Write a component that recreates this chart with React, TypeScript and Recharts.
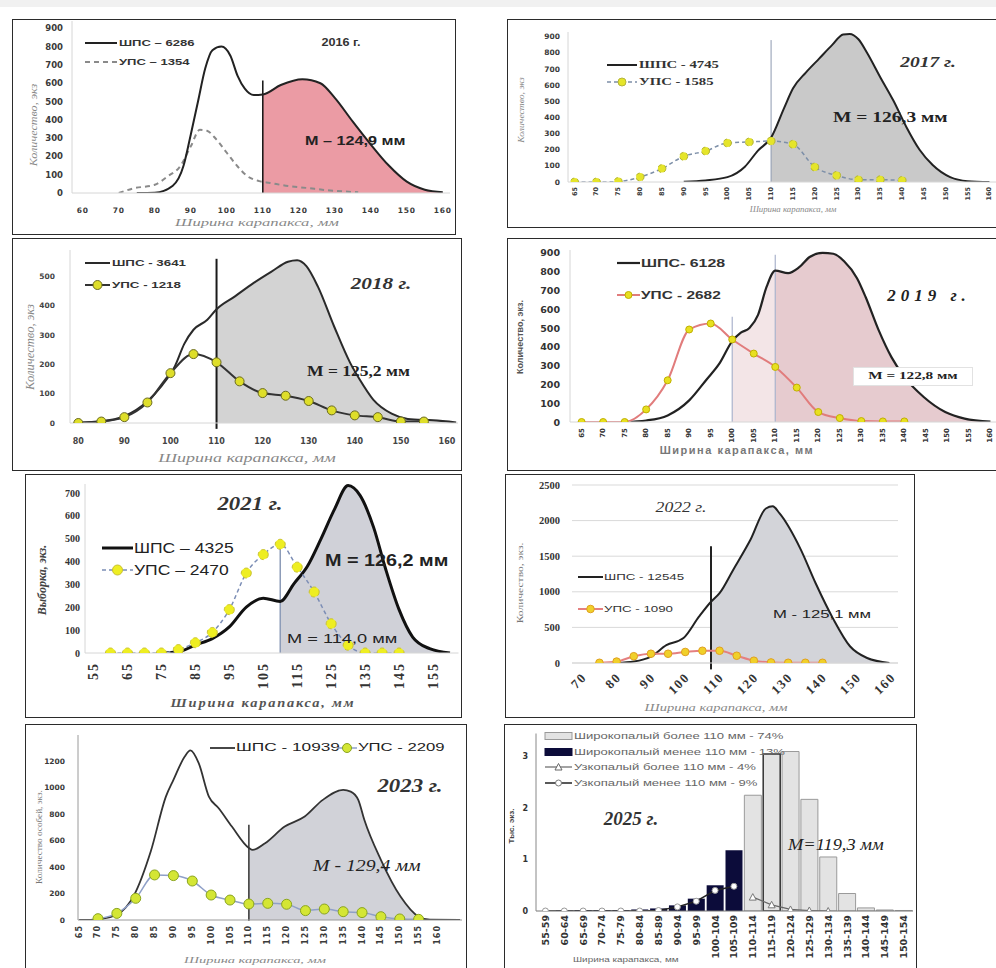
import React from 'react';
import { ComposedChart, Line, Area, Bar, Cell, XAxis, YAxis, ReferenceLine, CartesianGrid } from 'recharts';

const SANS = '"Liberation Sans", Arial, sans-serif';
const SERIF = '"Liberation Serif", "Times New Roman", serif';
const DJV = '"DejaVu Sans", sans-serif';

// ===== 2016 =====
const w2016Shps = [75, 80, 85, 88, 90, 92, 94, 96, 98.5, 101, 103, 105, 107.5, 110, 115, 121, 126, 130, 135, 140, 145, 150, 155, 160];
const n2016Shps = [0, 2, 40, 150, 320, 500, 680, 780, 800, 750, 640, 570, 535, 538, 590, 622, 600, 520, 390, 265, 150, 62, 18, 4];
const w2016Ups = [70, 74, 80, 83.5, 87, 90, 92.5, 94.5, 97, 100, 103, 105.5, 109, 112, 117, 122, 128, 136.5];
const n2016Ups = [0, 25, 45, 90, 145, 255, 345, 340, 295, 220, 145, 95, 65, 55, 38, 28, 15, 4];
const tick2016X = [60, 70, 80, 90, 100, 110, 120, 130, 140, 150, 160];
const tick2016Y = [0, 100, 200, 300, 400, 500, 600, 700, 800, 900];

// ===== 2017 =====
const w2017Shps = [90, 95, 100, 104, 107, 110, 113, 115, 118, 121, 124, 126.5, 128, 130, 132, 135, 138, 141, 144, 147, 151, 155, 160];
const n2017Shps = [2, 10, 30, 95, 195, 275, 460, 580, 680, 765, 850, 915, 918, 885, 800, 650, 505, 340, 200, 105, 30, 5, 0];
const w2017Ups = [65, 70, 75, 80, 85, 90, 95, 100, 105, 110, 115, 120, 125, 130, 135, 140];
const n2017Ups = [0, 0, 3, 31, 83, 159, 192, 242, 248, 254, 234, 93, 41, 14, 14, 10];
const tick2017X = [65, 70, 75, 80, 85, 90, 95, 100, 105, 110, 115, 120, 125, 130, 135, 140, 145, 150, 155, 160];
const tick2017Y = [0, 100, 200, 300, 400, 500, 600, 700, 800, 900];

// ===== 2018 =====
const w2018Shps = [80, 85, 90, 95, 98, 101, 103, 105, 108, 110, 114, 118, 122, 125.5, 127.5, 129.5, 132, 135.5, 139, 141, 144, 148, 151.5, 157, 162];
const n2018Shps = [2, 6, 23, 74, 125, 195, 270, 318, 352, 388, 432, 477, 517, 550, 555, 535, 465, 330, 205, 150, 80, 32, 14, 9, 2];
const w2018Ups = [80, 85, 90, 95, 100, 105, 110, 115, 120, 125, 130, 135, 140, 145, 150, 155];
const n2018Ups = [0, 5, 20, 70, 170, 235, 207, 142, 102, 93, 75, 43, 26, 20, 5, 5];
const tick2018X = [80, 90, 100, 110, 120, 130, 140, 150, 160];
const tick2018Y = [0, 100, 200, 300, 400, 500];

// ===== 2019 =====
const w2019Shps = [75, 80, 85, 90, 94, 97, 100, 102, 104, 106, 108, 110, 113, 115.5, 118, 121, 123.5, 126, 129, 131, 134, 137, 140, 144.5, 149.5, 154, 160];
const n2019Shps = [0, 8, 35, 115, 225, 310, 430, 475, 500, 570, 720, 805, 792, 822, 878, 900, 895, 855, 765, 665, 490, 345, 240, 133, 53, 18, 2];
const w2019Ups = [65, 70, 75, 80, 85, 90, 95, 100, 105, 110, 115, 120, 125, 130, 135, 140];
const n2019Ups = [0, 0, 0, 67, 222, 492, 524, 439, 364, 293, 183, 53, 21, 5, 3, 3];
const tick2019X = [65, 70, 75, 80, 85, 90, 95, 100, 105, 110, 115, 120, 125, 130, 135, 140, 145, 150, 155, 160];
const tick2019Y = [0, 100, 200, 300, 400, 500, 600, 700, 800, 900];

// ===== 2021 =====
const w2021Shps = [75, 80, 85, 90, 95, 100, 105, 110, 114, 118, 122, 126, 130, 133.5, 137.5, 141, 145, 149, 154, 160];
const n2021Shps = [0, 5, 35, 63, 114, 201, 240, 226, 303, 380, 500, 630, 733, 690, 550, 370, 190, 70, 19, 0];
const w2021Ups = [60, 65, 70, 75, 80, 85, 90, 95, 100, 105, 110, 115, 120, 125, 130, 135, 140, 145];
const n2021Ups = [0, 0, 0, 0, 15, 45, 90, 190, 350, 431, 476, 376, 267, 128, 34, 0, 0, 0];
const tick2021X = [55, 65, 75, 85, 95, 105, 115, 125, 135, 145, 155];
const tick2021Y = [0, 100, 200, 300, 400, 500, 600, 700];

// ===== 2022 =====
const w2022Shps = [80, 85, 90, 94.5, 99.5, 104, 107.5, 110, 114, 119, 123.5, 125.5, 127.5, 133.5, 138, 143, 148, 153, 159.5];
const n2022Shps = [0, 20, 90, 250, 350, 650, 860, 980, 1310, 1730, 2170, 2200, 2100, 1610, 1120, 630, 235, 70, 0];
const w2022Ups = [75, 80, 85, 90, 95, 100, 105, 110, 115, 120, 125, 130, 135, 140];
const n2022Ups = [3, 20, 95, 130, 130, 155, 172, 172, 102, 32, 8, 3, 3, 3];
const tick2022X = [70, 80, 90, 100, 110, 120, 130, 140, 150, 160];
const tick2022Y = [0, 500, 1000, 1500, 2000, 2500];

// ===== 2023 =====
const w2023Shps = [65, 70, 75, 79.6, 84, 88, 90, 93, 94.5, 96.7, 99.4, 102, 105.5, 110, 111, 114.3, 119.5, 124.8, 129.6, 135, 137, 139, 140.6, 145, 150.2, 155, 158, 166];
const n2023Shps = [0, 5, 40, 190, 520, 934, 1060, 1237, 1283, 1187, 934, 846, 707, 545, 530, 581, 707, 783, 909, 985, 972, 909, 758, 455, 177, 25, 2, 0];
const w2023Ups = [70, 75, 80, 85, 90, 95, 100, 105, 110, 115, 120, 125, 130, 135, 140, 145, 150, 155];
const n2023Ups = [10, 50, 164, 341, 336, 295, 189, 151, 121, 126, 119, 71, 83, 63, 56, 25, 8, 5];
const tick2023X = [65, 70, 75, 80, 85, 90, 95, 100, 105, 110, 115, 120, 125, 130, 135, 140, 145, 150, 155, 160];
const tick2023Y = [0, 200, 400, 600, 800, 1000, 1200];

// ===== 2025 =====
const cats2025 = ['55-59', '60-64', '65-69', '70-74', '75-79', '80-84', '85-89', '90-94', '95-99', '100-104', '105-109', '110-114', '115-119', '120-124', '125-129', '130-134', '135-139', '140-144', '145-149', '150-154'];
const wideMore2025 = [null, null, null, null, null, null, null, null, null, null, null, 2.25, 3.05, 3.1, 2.17, 1.05, 0.34, 0.06, 0.02, 0.01];
const wideLess2025 = [0, 0.01, 0.02, 0.02, 0.02, 0.03, 0.05, 0.11, 0.24, 0.5, 1.18, null, null, null, null, null, null, null, null, null];
const narrowLess2025 = [0, 0, 0, 0, 0, 0, 0.01, 0.08, 0.19, 0.4, 0.48, null, null, null, null, null, null, null, null, null];
const narrowMore2025 = [null, null, null, null, null, null, null, null, null, null, null, 0.27, 0.12, 0.03, 0.01, 0, null, null, null, null];
const tick2025Y = [0, 1, 2, 3];

// ===== helpers =====
type Row = { x: number; [k: string]: number | null };
function buildTable(series: Record<string, [number[], (number | null)[]]>): Row[] {
  const rows = new Map<number, Row>();
  Object.entries(series).forEach(([key, [xs, ys]]) => {
    xs.forEach((x, i) => {
      const v = ys[i];
      if (v === null || v === undefined) return;
      const r = rows.get(x) ?? ({ x } as Row);
      r[key] = v;
      rows.set(x, r);
    });
  });
  return Array.from(rows.values()).sort((a, b) => a.x - b.x);
}
function part(xs: number[], ys: number[], lo: number, hi = Infinity): [number[], number[]] {
  const ox: number[] = [];
  const oy: number[] = [];
  xs.forEach((x, i) => {
    if (x >= lo - 1e-9 && x <= hi + 1e-9) {
      ox.push(x);
      oy.push(ys[i]);
    }
  });
  return [ox, oy];
}

const d2016 = buildTable({ shps: [w2016Shps, n2016Shps], ups: [w2016Ups, n2016Ups], fill: part(w2016Shps, n2016Shps, 110) });
const d2017 = buildTable({ shps: [w2017Shps, n2017Shps], ups: [w2017Ups, n2017Ups], fill: part(w2017Shps, n2017Shps, 110) });
const d2018 = buildTable({ shps: [w2018Shps, n2018Shps], ups: [w2018Ups, n2018Ups], fill: part(w2018Shps, n2018Shps, 110) });
const d2019 = buildTable({ shps: [w2019Shps, n2019Shps], ups: [w2019Ups, n2019Ups], fillA: part(w2019Shps, n2019Shps, 100, 110), fillB: part(w2019Shps, n2019Shps, 110) });
const d2021 = buildTable({ shps: [w2021Shps, n2021Shps], ups: [w2021Ups, n2021Ups], fill: part(w2021Shps, n2021Shps, 110) });
const d2022 = buildTable({ shps: [w2022Shps, n2022Shps], ups: [w2022Ups, n2022Ups], fill: part(w2022Shps, n2022Shps, 107.5) });
const d2023 = buildTable({ shps: [w2023Shps, n2023Shps], ups: [w2023Ups, n2023Ups], fill: part(w2023Shps, n2023Shps, 110) });
const d2025 = cats2025.map((c, i) => ({ cat: c, wm: wideMore2025[i], wl: wideLess2025[i], nl: narrowLess2025[i], nm: narrowMore2025[i] }));

// ===== small components =====
type TxtProps = { x: number; y: number; children: React.ReactNode; anchor?: 'start' | 'middle' | 'end'; size?: number; weight?: number | string; italic?: boolean; family?: string; color?: string; rotate?: boolean; ls?: number; sx?: number };
function Txt({ x, y, children, anchor = 'start', size = 10, weight = 400, italic = false, family = SANS, color = '#222', rotate = false, ls = 0, sx = 1 }: TxtProps) {
  const tx = anchor === 'middle' ? '-50%' : anchor === 'end' ? '-100%' : '0%';
  const origin = rotate ? 'center center' : anchor === 'start' ? 'left center' : anchor === 'end' ? 'right center' : 'center center';
  const transform = rotate ? `translate(-50%,-50%) rotate(-90deg) scaleX(${sx})` : `translate(${tx},-50%) scaleX(${sx})`;
  return (
    <div style={{ position: 'absolute', left: x, top: y, transform, transformOrigin: origin, fontSize: size, fontWeight: weight as any, fontStyle: italic ? 'italic' : 'normal', fontFamily: family, color, whiteSpace: 'nowrap', lineHeight: 1, letterSpacing: ls }}>
      {children}
    </div>
  );
}

function Sample({ x, y, w, color = '#222', sw = 2, dash, dot, tri, rect }: any) {
  return (
    <svg style={{ position: 'absolute', left: x, top: y - 7, overflow: 'visible' }} width={w} height={14}>
      {rect ? (
        <rect x={0} y={7 - rect.h / 2} width={w} height={rect.h} fill={rect.fill} stroke={rect.stroke} strokeWidth={1} />
      ) : (
        <line x1={0} y1={7} x2={w} y2={7} stroke={color} strokeWidth={sw} strokeDasharray={dash} />
      )}
      {dot && <circle cx={w / 2} cy={7} r={dot.r} fill={dot.fill} stroke={dot.stroke} strokeWidth={1} />}
      {tri && <path d={`M${w / 2 - 3.5},10 L${w / 2},3.5 L${w / 2 + 3.5},10 Z`} fill="#fff" stroke={tri} strokeWidth={1} />}
    </svg>
  );
}

function Box({ x, y, w, h, children }: any) {
  return (
    <div style={{ position: 'absolute', left: x, top: y, width: w, height: h }}>
      {children}
      <div style={{ position: 'absolute', left: 0, top: 0, right: 0, bottom: 0, border: '1.5px solid #2b2b2b', pointerEvents: 'none' }} />
    </div>
  );
}

const yTick = (st: any) => (p: any) => (
  <text x={p.x} y={p.y} textAnchor="end" dominantBaseline="central" {...st}>{p.payload.value}</text>
);
const xTickH = (st: any, dy: number) => (p: any) => (
  <text x={p.x} y={p.y + dy} textAnchor="middle" dominantBaseline="central" {...st}>{p.payload.value}</text>
);
const xTickR = (st: any, dy: number, angle = -90, dx = 0) => (p: any) => {
  const X = p.x + dx;
  const Y = p.y + dy;
  return (
    <text x={X} y={Y} transform={`rotate(${angle} ${X} ${Y})`} textAnchor="end" dominantBaseline="central" {...st}>{p.payload.value}</text>
  );
};

const tk1 = { fontSize: 8.5, fontFamily: DJV, fontWeight: 700, fill: '#3a3a3a' };
const tk1x = { fontSize: 7.5, fontFamily: DJV, fontWeight: 700, fill: '#3a3a3a', letterSpacing: 0.8 };
const tk2 = { fontSize: 7.5, fontFamily: DJV, fontWeight: 700, fill: '#3a3a3a' };
const tk2x = { fontSize: 6.5, fontFamily: DJV, fontWeight: 700, fill: '#3a3a3a' };
const tk3 = { fontSize: 7.5, fontFamily: DJV, fontWeight: 700, fill: '#444' };
const tk3x = { fontSize: 8, fontFamily: DJV, fontWeight: 700, fill: '#444' };
const tk4 = { fontSize: 9.5, fontFamily: DJV, fontWeight: 700, fill: '#333' };
const tk4x = { fontSize: 7, fontFamily: DJV, fontWeight: 700, fill: '#333' };
const tk5 = { fontSize: 10, fontFamily: SERIF, fontWeight: 700, fill: '#333' };
const tk5x = { fontSize: 14, fontFamily: SERIF, fontWeight: 700, fill: '#333', letterSpacing: 2 };
const tk6 = { fontSize: 10.5, fontFamily: SERIF, fontWeight: 700, fill: '#333' };
const tk6x = { fontSize: 13, fontFamily: SERIF, fontWeight: 700, fill: '#333', letterSpacing: 1.5 };
const tk7 = { fontSize: 7.5, fontFamily: DJV, fontWeight: 700, fill: '#3a3a3a' };
const tk7x = { fontSize: 8, fontFamily: DJV, fontWeight: 700, fill: '#3a3a3a', letterSpacing: 1 };
const tk8 = { fontSize: 8, fontFamily: DJV, fontWeight: 700, fill: '#333' };
const tk8x = { fontSize: 9.5, fontFamily: DJV, fontWeight: 700, fill: '#333' };

const axLight = { stroke: '#d6d6d6', strokeWidth: 1 };
const NA = false as const;

function TriDot(p: any) {
  if (p.cy === null || p.cy === undefined || isNaN(p.cy)) return <g key={p.index} />;
  return <path key={p.index} d={`M${p.cx - 3.5},${p.cy + 3} L${p.cx},${p.cy - 3.5} L${p.cx + 3.5},${p.cy + 3} Z`} fill="#fff" stroke="#777" strokeWidth={1} />;
}

export default function App() {
  return (
    <div style={{ position: 'absolute', left: 0, top: 0, width: 996, height: 968, overflow: 'hidden', background: '#fff' }}>
      <div style={{ position: 'absolute', left: 0, top: 0, width: 996, height: 7, background: '#f1f1f1' }} />

      {/* ===== 2016 ===== */}
      <Box x={12} y={19} w={444} h={216}>
        <ComposedChart width={444} height={216} data={d2016} margin={{ top: 2, right: 6, bottom: 0, left: 0 }}>
          <XAxis type="number" dataKey="x" domain={[57, 162]} ticks={tick2016X} interval={0} allowDataOverflow tickSize={0} tickMargin={0} tickLine={NA} axisLine={axLight} tick={xTickH(tk1x, 17.5)} height={42} />
          <YAxis type="number" domain={[0, 940]} ticks={tick2016Y} interval={0} allowDataOverflow tickSize={0} tickMargin={9} tickLine={NA} axisLine={axLight} tick={yTick(tk1)} width={60} />
          <Area dataKey="fill" type="monotone" connectNulls stroke="none" fill="#eb9ba4" fillOpacity={1} isAnimationActive={false} dot={false} activeDot={false} />
          <ReferenceLine segment={[{ x: 110, y: 0 }, { x: 110, y: 615 }]} stroke="#111" strokeWidth={1.5} ifOverflow="visible" />
          <Line dataKey="ups" type="monotone" connectNulls stroke="#8a8a8a" strokeWidth={2} strokeDasharray="5 4" dot={false} activeDot={false} isAnimationActive={false} />
          <Line dataKey="shps" type="monotone" connectNulls stroke="#222" strokeWidth={2} dot={false} activeDot={false} isAnimationActive={false} />
        </ComposedChart>
      </Box>
      <Sample x={85} y={43} w={32} color="#222" sw={2} />
      <Txt x={119} y={43} size={9} weight={700} sx={1.45} color="#333">ШПС – 6286</Txt>
      <Sample x={85} y={62} w={32} color="#8a8a8a" sw={2} dash="5 4" />
      <Txt x={119} y={62} size={9} weight={700} sx={1.45} color="#333">УПС – 1354</Txt>
      <Txt x={341} y={42} anchor="middle" size={11} weight={700} sx={1.15} color="#333">2016 г.</Txt>
      <Txt x={305} y={141} size={12} weight={700} sx={1.35} color="#222">M – 124,9 мм</Txt>
      <Txt x={257} y={224} anchor="middle" size={9.5} italic family={SERIF} color="#888" sx={1.75}>Ширина карапакса, мм</Txt>
      <Txt x={33} y={125} anchor="middle" rotate size={11} italic family={SERIF} color="#888" sx={1.1}>Количество, экз</Txt>

      {/* ===== 2017 ===== */}
      <Box x={507} y={19} w={492} h={209}>
        <ComposedChart width={492} height={209} data={d2017} margin={{ top: 13, right: 3, bottom: 0, left: 0 }}>
          <XAxis type="number" dataKey="x" domain={[63.5, 161.5]} ticks={tick2017X} interval={0} allowDataOverflow tickSize={0} tickMargin={0} tickLine={NA} axisLine={axLight} tick={xTickR(tk2x, 5)} height={46} />
          <YAxis type="number" domain={[0, 930]} ticks={tick2017Y} interval={0} allowDataOverflow tickSize={0} tickMargin={8} tickLine={NA} axisLine={axLight} tick={yTick(tk2)} width={61} />
          <Area dataKey="fill" type="monotone" connectNulls stroke="none" fill="#c9c9c9" fillOpacity={1} isAnimationActive={false} dot={false} activeDot={false} />
          <ReferenceLine segment={[{ x: 110, y: 0 }, { x: 110, y: 880 }]} stroke="#8e9ab0" strokeWidth={1} ifOverflow="visible" />
          <Line dataKey="shps" type="monotone" connectNulls stroke="#222" strokeWidth={2} dot={false} activeDot={false} isAnimationActive={false} />
          <Line dataKey="ups" type="monotone" connectNulls stroke="#7d8fa8" strokeWidth={1.5} strokeDasharray="4 3" dot={{ r: 4, fill: '#e5e52a', stroke: '#b5b53a', strokeWidth: 1 }} activeDot={false} isAnimationActive={false} />
        </ComposedChart>
      </Box>
      <Sample x={607} y={65} w={30} color="#222" sw={2} />
      <Txt x={639} y={65} size={10.5} weight={700} family={SERIF} sx={1.4} color="#333">ШПС - 4745</Txt>
      <Sample x={607} y={82} w={30} color="#7d8fa8" sw={1.5} dash="4 3" dot={{ r: 4, fill: '#e5e52a', stroke: '#b5b53a' }} />
      <Txt x={639} y={82} size={10.5} weight={700} family={SERIF} sx={1.4} color="#333">УПС - 1585</Txt>
      <Txt x={928} y={62} anchor="middle" size={15} weight={700} italic family={SERIF} sx={1.3} color="#333">2017 г.</Txt>
      <Txt x={833} y={117} size={15} weight={700} family={SERIF} sx={1.3} color="#222">M = 126,3 мм</Txt>
      <Txt x={793} y={210} anchor="middle" size={8} italic family={SERIF} color="#888" sx={1.1}>Ширина карапакса, мм</Txt>
      <Txt x={522} y={110} anchor="middle" rotate size={8} italic family={SERIF} color="#888" sx={1.2}>Количество, экз</Txt>

      {/* ===== 2018 ===== */}
      <Box x={12} y={238} w={450} h={233}>
        <ComposedChart width={450} height={233} data={d2018} margin={{ top: 12, right: 4, bottom: 0, left: 0 }}>
          <XAxis type="number" dataKey="x" domain={[78.2, 162.4]} ticks={tick2018X} interval={0} allowDataOverflow tickSize={0} tickMargin={0} tickLine={NA} axisLine={axLight} tick={xTickH(tk3x, 18)} height={48} />
          <YAxis type="number" domain={[0, 590]} ticks={tick2018Y} interval={0} allowDataOverflow tickSize={0} tickMargin={15} tickLine={NA} axisLine={axLight} tick={yTick(tk3)} width={58} />
          <Area dataKey="fill" type="monotone" connectNulls stroke="none" fill="#d3d3d3" fillOpacity={1} isAnimationActive={false} dot={false} activeDot={false} />
          <ReferenceLine segment={[{ x: 110, y: -20 }, { x: 110, y: 560 }]} stroke="#1a1a1a" strokeWidth={2} ifOverflow="visible" />
          <Line dataKey="shps" type="monotone" connectNulls stroke="#2a2a2a" strokeWidth={2} dot={false} activeDot={false} isAnimationActive={false} />
          <Line dataKey="ups" type="monotone" connectNulls stroke="#333" strokeWidth={2} dot={{ r: 4.5, fill: '#dede2a', stroke: '#6a6a20', strokeWidth: 1 }} activeDot={false} isAnimationActive={false} />
        </ComposedChart>
      </Box>
      <Sample x={85} y={263} w={25} color="#2a2a2a" sw={2} />
      <Txt x={112} y={263} size={9.5} weight={700} sx={1.4} color="#333">ШПС - 3641</Txt>
      <Sample x={85} y={285} w={25} color="#333" sw={2} dot={{ r: 4.5, fill: '#dede2a', stroke: '#6a6a20' }} />
      <Txt x={112} y={285} size={9.5} weight={700} sx={1.4} color="#333">УПС - 1218</Txt>
      <Txt x={381} y={283} anchor="middle" size={17} weight={700} italic family={SERIF} sx={1.25} color="#333">2018 г.</Txt>
      <Txt x={307} y={372} size={14} weight={700} family={SERIF} sx={1.25} color="#222">M = 125,2 мм</Txt>
      <Txt x={247} y={458} anchor="middle" size={12} italic family={SERIF} color="#888" sx={1.5}>Ширина карапакса, мм</Txt>
      <Txt x={30} y={347} anchor="middle" rotate size={12} italic family={SERIF} color="#888" sx={1.05}>Количество, экз</Txt>

      {/* ===== 2019 ===== */}
      <Box x={507} y={238} w={492} h={233}>
        <ComposedChart width={492} height={233} data={d2019} margin={{ top: 12, right: 3, bottom: 0, left: 0 }}>
          <XAxis type="number" dataKey="x" domain={[62.3, 161.3]} ticks={tick2019X} interval={0} allowDataOverflow tickSize={0} tickMargin={0} tickLine={NA} axisLine={axLight} tick={xTickR(tk4x, 6)} height={49} />
          <YAxis type="number" domain={[0, 915]} ticks={tick2019Y} interval={0} allowDataOverflow tickSize={0} tickMargin={10} tickLine={NA} axisLine={axLight} tick={yTick(tk4)} width={63} />
          <Area dataKey="fillA" type="monotone" connectNulls stroke="none" fill="#f3e5e7" fillOpacity={1} isAnimationActive={false} dot={false} activeDot={false} />
          <Area dataKey="fillB" type="monotone" connectNulls stroke="none" fill="#e6cbcf" fillOpacity={1} isAnimationActive={false} dot={false} activeDot={false} />
          <ReferenceLine segment={[{ x: 100, y: 0 }, { x: 100, y: 560 }]} stroke="#aab3cc" strokeWidth={1.2} ifOverflow="visible" />
          <ReferenceLine segment={[{ x: 110, y: 0 }, { x: 110, y: 890 }]} stroke="#aab3cc" strokeWidth={1.2} ifOverflow="visible" />
          <Line dataKey="shps" type="monotone" connectNulls stroke="#222" strokeWidth={2.2} dot={false} activeDot={false} isAnimationActive={false} />
          <Line dataKey="ups" type="monotone" connectNulls stroke="#e17c7c" strokeWidth={2} dot={{ r: 3.5, fill: '#e8e020', stroke: '#c0b000', strokeWidth: 1 }} activeDot={false} isAnimationActive={false} />
        </ComposedChart>
      </Box>
      <Sample x={617} y={263} w={23} color="#222" sw={2.2} />
      <Txt x={641} y={263} size={11} weight={700} sx={1.45} color="#333">ШПС- 6128</Txt>
      <Sample x={617} y={295} w={23} color="#e17c7c" sw={2} dot={{ r: 3.5, fill: '#e8e020', stroke: '#c0b000' }} />
      <Txt x={641} y={295} size={11} weight={700} sx={1.4} color="#333">УПС - 2682</Txt>
      <Txt x={929} y={295} anchor="middle" size={17} weight={700} italic family={SERIF} ls={5} color="#222">2019 г.</Txt>
      <div style={{ position: 'absolute', left: 853, top: 367, width: 120, height: 19, background: '#fff', border: '1px solid #e2e2e2', boxSizing: 'border-box' }} />
      <Txt x={913} y={376} anchor="middle" size={10.5} weight={700} family={SERIF} sx={1.45} color="#222">M = 122,8 мм</Txt>
      <Txt x={737} y={450} anchor="middle" size={11} weight={700} ls={1.5} color="#777">Ширина карапакса, мм</Txt>
      <Txt x={520} y={337} anchor="middle" rotate size={9} weight={600} color="#555">Количество, экз.</Txt>

      {/* ===== 2021 ===== */}
      <Box x={25} y={474} w={437} h={244}>
        <ComposedChart width={437} height={244} data={d2021} margin={{ top: 10, right: 3.5, bottom: 0, left: 0 }}>
          <XAxis type="number" dataKey="x" domain={[52.5, 162.5]} ticks={tick2021X} interval={0} allowDataOverflow tickSize={0} tickMargin={0} tickLine={NA} axisLine={axLight} tick={xTickR(tk5x, 9)} height={65} />
          <YAxis type="number" domain={[0, 740]} ticks={tick2021Y} interval={0} allowDataOverflow tickSize={0} tickMargin={5} tickLine={NA} axisLine={axLight} tick={yTick(tk5)} width={60} />
          <Area dataKey="fill" type="monotone" connectNulls stroke="none" fill="#d0d1d8" fillOpacity={1} isAnimationActive={false} dot={false} activeDot={false} />
          <ReferenceLine segment={[{ x: 110, y: 0 }, { x: 110, y: 480 }]} stroke="#8c9bb8" strokeWidth={1.5} ifOverflow="visible" />
          <Line dataKey="shps" type="monotone" connectNulls stroke="#111" strokeWidth={3} dot={false} activeDot={false} isAnimationActive={false} />
          <Line dataKey="ups" type="monotone" connectNulls stroke="#7b8db5" strokeWidth={1.5} strokeDasharray="4 3" dot={{ r: 5, fill: '#eeee22', stroke: '#c8c030', strokeWidth: 1 }} activeDot={false} isAnimationActive={false} />
        </ComposedChart>
      </Box>
      <Sample x={102} y={548} w={31} color="#111" sw={3} />
      <Txt x={134} y={548} size={14} sx={1.25} color="#222">ШПС – 4325</Txt>
      <Sample x={102} y={570} w={31} color="#7b8db5" sw={1.5} dash="4 3" dot={{ r: 5, fill: '#eeee22', stroke: '#c8c030' }} />
      <Txt x={134} y={570} size={14} sx={1.25} color="#222">УПС – 2470</Txt>
      <Txt x={250} y={503} anchor="middle" size={19} weight={700} italic family={SERIF} sx={1.2} color="#333">2021 г.</Txt>
      <Txt x={325} y={560} size={16.5} weight={600} sx={1.2} color="#222">M = 126,2 мм</Txt>
      <Txt x={287} y={638} size={13} sx={1.4} color="#222">M = 114,0 мм</Txt>
      <Txt x={263} y={703} anchor="middle" size={12} weight={700} italic family={SERIF} ls={1.5} sx={1.2} color="#555">Ширина карапакса, мм</Txt>
      <Txt x={42} y={580} anchor="middle" rotate size={12} weight={700} italic family={SERIF} color="#444">Выборка, экз.</Txt>

      {/* ===== 2022 ===== */}
      <Box x={505} y={474} w={410} h={244}>
        <ComposedChart width={410} height={244} data={d2022} margin={{ top: 11, right: 17, bottom: 0, left: 0 }}>
          <CartesianGrid vertical={false} stroke="#d9d9d9" />
          <XAxis type="number" dataKey="x" domain={[67, 162]} ticks={tick2022X} interval={0} allowDataOverflow tickSize={0} tickMargin={0} tickLine={NA} axisLine={axLight} tick={xTickR(tk6x, 12, -45, 2)} height={55} />
          <YAxis type="number" domain={[0, 2500]} ticks={tick2022Y} interval={0} allowDataOverflow tickSize={0} tickMargin={12} tickLine={NA} axisLine={false} tick={yTick(tk6)} width={67} />
          <Area dataKey="fill" type="monotone" connectNulls stroke="none" fill="#d3d4d9" fillOpacity={1} isAnimationActive={false} dot={false} activeDot={false} />
          <ReferenceLine segment={[{ x: 107.5, y: -90 }, { x: 107.5, y: 1640 }]} stroke="#222" strokeWidth={2} ifOverflow="visible" />
          <Line dataKey="shps" type="monotone" connectNulls stroke="#222" strokeWidth={2} dot={false} activeDot={false} isAnimationActive={false} />
          <Line dataKey="ups" type="monotone" connectNulls stroke="#e58080" strokeWidth={2} dot={{ r: 3.8, fill: '#f0d02a', stroke: '#e0a020', strokeWidth: 1 }} activeDot={false} isAnimationActive={false} />
        </ComposedChart>
      </Box>
      <Sample x={578} y={577} w={25} color="#222" sw={2} />
      <Txt x={604} y={577} size={9.5} sx={1.4} color="#333">ШПС - 12545</Txt>
      <Sample x={578} y={609} w={25} color="#e58080" sw={2} dot={{ r: 3.8, fill: '#f0d02a', stroke: '#e0a020' }} />
      <Txt x={604} y={609} size={9.5} sx={1.4} color="#333">УПС - 1090</Txt>
      <Txt x={681} y={507} anchor="middle" size={15} italic family={SERIF} sx={1.18} color="#333">2022 г.</Txt>
      <Txt x={773} y={615} size={11.5} sx={1.45} color="#222">M - 125,1 мм</Txt>
      <Txt x={716} y={708} anchor="middle" size={10} italic family={SERIF} color="#888" sx={1.45}>Ширина карапакса, мм</Txt>
      <Txt x={520} y={583} anchor="middle" rotate size={9} family={SERIF} color="#777" sx={1.28}>Количество, экз.</Txt>

      {/* ===== 2023 ===== */}
      <Box x={25} y={724} w={442} h={250}>
        <ComposedChart width={442} height={250} data={d2023} margin={{ top: 11, right: 5, bottom: 0, left: 0 }}>
          <XAxis type="number" dataKey="x" domain={[64.7, 166.5]} ticks={tick2023X} interval={0} allowDataOverflow tickSize={0} tickMargin={0} tickLine={NA} axisLine={{ stroke: '#9a9a9a' }} tick={xTickR(tk7x, 5)} height={54} />
          <YAxis type="number" domain={[0, 1400]} ticks={tick2023Y} interval={0} allowDataOverflow tickSize={0} tickMargin={13} tickLine={NA} axisLine={{ stroke: '#9a9a9a' }} tick={yTick(tk7)} width={53} />
          <Area dataKey="fill" type="monotone" connectNulls stroke="none" fill="#d1d2d8" fillOpacity={1} isAnimationActive={false} dot={false} activeDot={false} />
          <ReferenceLine segment={[{ x: 110, y: -5 }, { x: 110, y: 720 }]} stroke="#333" strokeWidth={1.5} ifOverflow="visible" />
          <Line dataKey="shps" type="monotone" connectNulls stroke="#333" strokeWidth={1.8} dot={false} activeDot={false} isAnimationActive={false} />
          <Line dataKey="ups" type="monotone" connectNulls stroke="#8fa0c8" strokeWidth={1.5} dot={{ r: 5, fill: '#d4e634', stroke: '#8aa420', strokeWidth: 1 }} activeDot={false} isAnimationActive={false} />
        </ComposedChart>
      </Box>
      <Sample x={210} y={748} w={25} color="#333" sw={1.8} />
      <Txt x={236} y={748} size={11.5} sx={1.5} color="#222">ШПС - 10939</Txt>
      <Sample x={337} y={748} w={20} color="#8fa0c8" sw={1.5} dot={{ r: 4.5, fill: '#d4e634', stroke: '#8aa420' }} />
      <Txt x={358} y={748} size={11.5} sx={1.45} color="#222">УПС - 2209</Txt>
      <Txt x={410} y={785} anchor="middle" size={19} weight={700} italic family={SERIF} sx={1.2} color="#333">2023 г.</Txt>
      <Txt x={313} y={866} size={17.5} italic family={SERIF} sx={1.13} color="#222">M - 129,4 мм</Txt>
      <Txt x={255} y={960} anchor="middle" size={9} italic family={SERIF} color="#888" sx={1.6}>Ширина карапакса, мм</Txt>
      <Txt x={40} y={837} anchor="middle" rotate size={8} family={SERIF} color="#777" sx={1.15}>Количество особей, экз.</Txt>

      {/* ===== 2025 ===== */}
      <Box x={504} y={724} w={413} h={250}>
        <ComposedChart width={413} height={250} data={d2025} margin={{ top: 9.5, right: 4, bottom: 0, left: 0 }} barCategoryGap={1} barGap={0}>
          <XAxis dataKey="cat" type="category" interval={0} tickSize={0} tickMargin={0} tickLine={NA} axisLine={{ stroke: '#777' }} tick={xTickR(tk8x, 4)} height={63} />
          <YAxis type="number" domain={[0, 3.45]} ticks={tick2025Y} interval={0} allowDataOverflow tickSize={0} tickMargin={8} tickLine={NA} axisLine={{ stroke: '#888' }} tick={yTick(tk8)} width={32} />
          <Bar dataKey="wl" stackId="a" fill="#0c0c3a" isAnimationActive={false} />
          <Bar dataKey="wm" stackId="a" fill="#e3e3e3" stroke="#9a9a9a" strokeWidth={1} isAnimationActive={false}>
            {d2025.map((_, i) => (
              <Cell key={i} stroke={i === 12 ? '#333' : '#9a9a9a'} strokeWidth={i === 12 ? 1.5 : 1} />
            ))}
          </Bar>
          <Line dataKey="nl" type="linear" stroke="#222" strokeWidth={1.5} dot={{ r: 3, fill: '#fff', stroke: '#999', strokeWidth: 1 }} activeDot={false} isAnimationActive={false} />
          <Line dataKey="nm" type="linear" stroke="#666" strokeWidth={1.2} dot={TriDot} activeDot={false} isAnimationActive={false} />
        </ComposedChart>
      </Box>
      <Sample x={545} y={736} w={27} rect={{ h: 7, fill: '#e3e3e3', stroke: '#999' }} />
      <Txt x={574} y={736} size={9} sx={1.45} color="#666">Широкопалый более 110 мм - 74%</Txt>
      <Sample x={545} y={752} w={27} rect={{ h: 7, fill: '#0c0c3a', stroke: '#0c0c3a' }} />
      <Txt x={574} y={752} size={9} sx={1.45} color="#666">Широкопалый менее 110 мм - 13%</Txt>
      <Sample x={545} y={767} w={27} color="#666" sw={1.2} tri="#666" />
      <Txt x={574} y={767} size={9} sx={1.45} color="#666">Узкопалый более 110 мм - 4%</Txt>
      <Sample x={545} y={783} w={27} color="#222" sw={1.5} dot={{ r: 3, fill: '#fff', stroke: '#777' }} />
      <Txt x={574} y={783} size={9} sx={1.45} color="#666">Узкопалый менее 110 мм - 9%</Txt>
      <Txt x={631} y={818} anchor="middle" size={19} weight={700} italic family={SERIF} color="#333">2025 г.</Txt>
      <Txt x={788} y={844} size={17} italic family={SERIF} sx={1.08} color="#222">M=119,3 мм</Txt>
      <Txt x={573} y={960} size={8} sx={1.24} color="#666">Ширина карапакса, мм</Txt>
      <Txt x={512} y={826} anchor="middle" rotate size={8} weight={700} color="#444">Тыс. экз.</Txt>
    </div>
  );
}
